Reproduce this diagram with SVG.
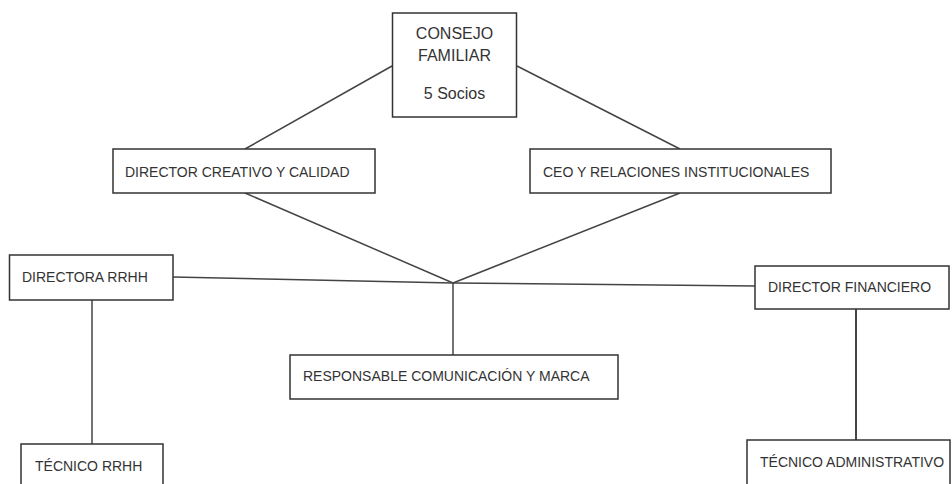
<svg xmlns="http://www.w3.org/2000/svg" width="952" height="484" viewBox="0 0 952 484">
<style>
.box{fill:#fff;stroke:#333;stroke-width:1.5}
.t{font-family:"Liberation Sans",Arial,sans-serif;font-size:14px;fill:#333}
.tb{font-family:"Liberation Sans",Arial,sans-serif;font-size:16px;fill:#333;text-anchor:middle}
.ln{stroke:#444;stroke-width:1.5;fill:none}
</style>
<rect width="952" height="484" fill="#fff"/>
<g id="connectors">
<line class="ln" x1="392" y1="66" x2="245" y2="149"/>
<line class="ln" x1="517" y1="66" x2="680" y2="149"/>
<line class="ln" x1="245" y1="193" x2="453" y2="283"/>
<line class="ln" x1="680" y1="193" x2="453" y2="283"/>
<line class="ln" x1="173" y1="277" x2="453" y2="283"/>
<line class="ln" x1="453" y1="283" x2="755" y2="286"/>
<line class="ln" x1="453" y1="283" x2="453" y2="355"/>
<line class="ln" x1="92" y1="300" x2="92" y2="444"/>
<line class="ln" x1="856" y1="309" x2="856" y2="440" style="stroke-width:2"/>
</g>
<g id="consejo">
<rect class="box" x="392.5" y="13" width="124" height="104"/>
<text class="tb" x="454.5" y="39">CONSEJO</text>
<text class="tb" x="454.5" y="61">FAMILIAR</text>
<text class="tb" x="454.5" y="99">5 Socios</text>
</g>
<g id="director-creativo">
<rect class="box" x="113" y="149" width="262" height="44"/>
<text class="t" x="125" y="177">DIRECTOR CREATIVO Y CALIDAD</text>
</g>
<g id="ceo">
<rect class="box" x="530" y="149" width="301" height="44"/>
<text class="t" x="543" y="177">CEO Y RELACIONES INSTITUCIONALES</text>
</g>
<g id="directora-rrhh">
<rect class="box" x="9.5" y="255" width="163.5" height="45"/>
<text class="t" x="22" y="282">DIRECTORA RRHH</text>
</g>
<g id="director-financiero">
<rect class="box" x="755" y="266" width="194" height="43"/>
<text class="t" x="768" y="292">DIRECTOR FINANCIERO</text>
</g>
<g id="responsable">
<rect class="box" x="290" y="355" width="328" height="44"/>
<text class="t" x="303" y="381">RESPONSABLE COMUNICACIÓN Y MARCA</text>
</g>
<g id="tecnico-rrhh">
<rect class="box" x="21" y="444" width="142" height="50"/>
<text class="t" x="35" y="471">TÉCNICO RRHH</text>
</g>
<g id="tecnico-administrativo">
<rect class="box" x="747" y="440" width="203" height="54"/>
<text class="t" x="760" y="467">TÉCNICO ADMINISTRATIVO</text>
</g>
</svg>
